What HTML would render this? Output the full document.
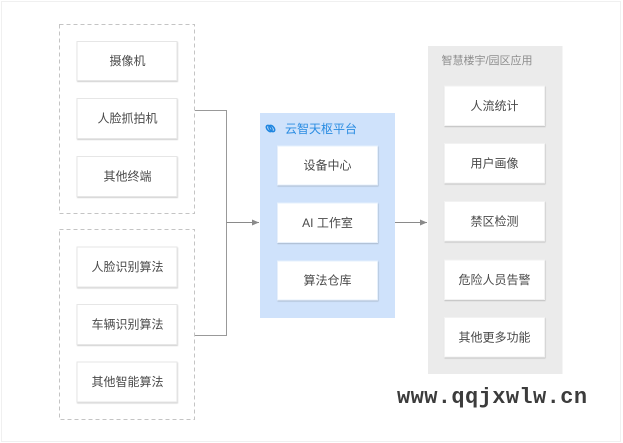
<!DOCTYPE html>
<html><head><meta charset="utf-8"><style>
html,body{margin:0;padding:0;background:#fff;}
body{width:623px;height:443px;overflow:hidden;position:relative;}
svg{position:absolute;left:0;top:0;}
.t{font-family:"Liberation Sans","Noto Sans CJK SC",sans-serif;font-size:12px;fill:#4a4a4a;}
.wm{position:absolute;left:397px;top:387px;font-family:"Liberation Mono",monospace;font-weight:bold;font-size:22px;line-height:22px;letter-spacing:0.4px;color:#3c3c3c;white-space:nowrap;}
</style></head><body>
<svg width="623" height="443" viewBox="0 0 623 443" xmlns="http://www.w3.org/2000/svg">
<defs>
<filter id="sh" x="-10%" y="-10%" width="120%" height="130%">
<feDropShadow dx="0.5" dy="1" stdDeviation="0.6" flood-color="#000" flood-opacity="0.18"/>
</filter>
<marker id="ar" markerWidth="7" markerHeight="6" refX="7" refY="3" orient="auto" markerUnits="userSpaceOnUse">
<path d="M0,0 L7,3 L0,6 Z" fill="#8a8a8a"/>
</marker>
</defs>
<rect x="1.5" y="1.5" width="619" height="440" fill="none" stroke="#f0f0f0" stroke-width="1"/>

<!-- dashed groups -->
<rect x="59.5" y="24.5" width="135" height="189" fill="none" stroke="#c4c4c4" stroke-dasharray="4 3"/>
<rect x="59.5" y="229.5" width="135" height="190" fill="none" stroke="#c4c4c4" stroke-dasharray="4 3"/>

<!-- connectors -->
<path d="M195,110.5 H226.5 V335.5 H195" fill="none" stroke="#999" stroke-width="1"/>
<line x1="226.5" y1="222.5" x2="259" y2="222.5" stroke="#8a8a8a" stroke-width="1" marker-end="url(#ar)"/>
<line x1="395" y1="222.5" x2="427" y2="222.5" stroke="#8a8a8a" stroke-width="1" marker-end="url(#ar)"/>

<!-- left boxes -->
<g filter="url(#sh)" fill="#fff" stroke="#e6e6e6">
<rect x="77" y="41.5" width="100" height="39"/>
<rect x="77" y="98.5" width="100" height="40"/>
<rect x="77" y="156.5" width="100" height="40"/>
<rect x="77" y="247" width="100" height="40"/>
<rect x="77" y="304.5" width="100" height="40"/>
<rect x="77" y="362" width="100" height="40"/>
</g>
<g class="t" text-anchor="middle" dominant-baseline="central">
<text x="127.5" y="61">摄像机</text>
<text x="127.5" y="118.5">人脸抓拍机</text>
<text x="127.5" y="176.5">其他终端</text>
<text x="127.5" y="267">人脸识别算法</text>
<text x="127.5" y="324.5">车辆识别算法</text>
<text x="127.5" y="382">其他智能算法</text>
</g>

<!-- blue platform -->
<rect x="260" y="113" width="135" height="205" fill="#cfe2fb"/>
<g transform="translate(270.5,128.5)" fill="none" stroke="#1f86e0" stroke-width="1.6">
<ellipse cx="-1.3" cy="0" rx="2.2" ry="3.6" transform="rotate(-40 -1.3 0)"/>
<ellipse cx="1.3" cy="0" rx="2.2" ry="3.6" transform="rotate(-40 1.3 0)"/>
</g>
<text x="285" y="129" font-family="Liberation Sans,Noto Sans CJK SC,sans-serif" font-size="12" fill="#2a8ce2" dominant-baseline="central">云智天枢平台</text>
<g filter="url(#sh)" fill="#fff" stroke="#e6f0fc">
<rect x="277.5" y="146" width="100" height="39"/>
<rect x="277.5" y="203" width="100" height="39.5"/>
<rect x="277.5" y="261" width="100" height="39"/>
</g>
<g class="t" text-anchor="middle" dominant-baseline="central">
<text x="327.5" y="165.5">设备中心</text>
<text x="327.5" y="223">AI 工作室</text>
<text x="327.5" y="280.5">算法仓库</text>
</g>

<!-- gray application panel -->
<rect x="428" y="46" width="134.5" height="328" fill="#ebebeb"/>
<text x="441.5" y="61" font-family="Liberation Sans,Noto Sans CJK SC,sans-serif" font-size="11" fill="#8e8e8e" dominant-baseline="central">智慧楼宇/园区应用</text>
<g filter="url(#sh)" fill="#fff" stroke="#f2f2f2">
<rect x="444.5" y="86" width="100" height="39.5"/>
<rect x="444.5" y="143.5" width="100" height="39.5"/>
<rect x="444.5" y="201.5" width="100" height="39.5"/>
<rect x="444.5" y="260" width="100" height="39.5"/>
<rect x="444.5" y="317.5" width="100" height="39.5"/>
</g>
<g class="t" text-anchor="middle" dominant-baseline="central">
<text x="494.5" y="106">人流统计</text>
<text x="494.5" y="163.5">用户画像</text>
<text x="494.5" y="221.5">禁区检测</text>
<text x="494.5" y="280">危险人员告警</text>
<text x="494.5" y="337.5">其他更多功能</text>
</g>
</svg>
<div class="wm">www.qqjxwlw.cn</div>
</body></html>
